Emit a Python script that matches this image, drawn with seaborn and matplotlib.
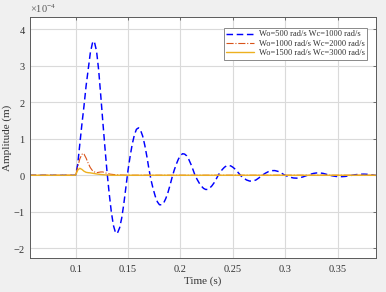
import numpy as np
import pandas as pd
import matplotlib
matplotlib.use("Agg")
import matplotlib.pyplot as plt
import seaborn as sns
from matplotlib.ticker import ScalarFormatter, FixedLocator

# ---------------- data (amplitudes read in units of 1e-4 m) ----------------
t_blue = [0.056, 0.100, 0.102, 0.104, 0.106, 0.108, 0.110, 0.112, 0.114, 0.116, 0.117,
          0.118, 0.120, 0.122, 0.124, 0.126, 0.128, 0.130, 0.132, 0.134, 0.136, 0.138,
          0.139, 0.140, 0.142, 0.144, 0.146, 0.148, 0.150, 0.152, 0.154, 0.156, 0.158,
          0.160, 0.162, 0.164, 0.166, 0.168, 0.170, 0.172, 0.174, 0.176, 0.178, 0.180,
          0.182, 0.184, 0.186, 0.188, 0.190, 0.192, 0.194, 0.196, 0.198, 0.200, 0.202,
          0.204, 0.206, 0.208, 0.210, 0.212, 0.214, 0.216, 0.218, 0.220, 0.222, 0.224,
          0.226, 0.228, 0.230, 0.232, 0.234, 0.236, 0.238, 0.240, 0.242, 0.244, 0.246,
          0.248, 0.250, 0.252, 0.254, 0.256, 0.258, 0.260, 0.263, 0.266, 0.269, 0.272,
          0.275, 0.278, 0.281, 0.284, 0.287, 0.290, 0.293, 0.296, 0.299, 0.302, 0.305,
          0.308, 0.311, 0.314, 0.317, 0.320, 0.324, 0.327, 0.330, 0.333, 0.336, 0.339,
          0.342, 0.345, 0.348, 0.351, 0.354, 0.357, 0.360, 0.363, 0.366, 0.369, 0.372,
          0.375, 0.378, 0.381, 0.384, 0.387]
y_blue = [0.0, 0.0, 0.30, 0.85, 1.40, 1.90, 2.45, 2.90, 3.35, 3.62, 3.68,
          3.65, 3.40, 2.88, 2.18, 1.45, 0.75, 0.08, -0.49, -0.99, -1.37, -1.57,
          -1.60, -1.58, -1.44, -1.17, -0.78, -0.32, 0.14, 0.52, 0.85, 1.10, 1.26,
          1.30, 1.23, 1.07, 0.82, 0.51, 0.16, -0.14, -0.38, -0.58, -0.73, -0.81,
          -0.81, -0.76, -0.64, -0.48, -0.28, -0.06, 0.135, 0.30, 0.44, 0.54, 0.59,
          0.58, 0.53, 0.43, 0.30, 0.15, -0.01, -0.12, -0.22, -0.30, -0.36, -0.39,
          -0.39, -0.35, -0.29, -0.21, -0.11, 0.0, 0.09, 0.16, 0.22, 0.26, 0.27,
          0.255, 0.22, 0.17, 0.11, 0.04, -0.025, -0.07, -0.13, -0.16, -0.16, -0.13,
          -0.07, 0.0, 0.056, 0.10, 0.126, 0.128, 0.106, 0.064, 0.01, -0.029, -0.058,
          -0.076, -0.08, -0.068, -0.044, -0.012, 0.028, 0.051, 0.063, 0.063, 0.051, 0.028,
          0.0, -0.017, -0.031, -0.039, -0.039, -0.033, -0.02, -0.003, 0.011, 0.022, 0.028,
          0.03, 0.026, 0.016, 0.004, -0.004]

t_orange = [0.056, 0.100, 0.102, 0.104, 0.106, 0.107, 0.108, 0.110, 0.112, 0.114, 0.116,
            0.118, 0.120, 0.122, 0.124, 0.126, 0.128, 0.130, 0.133, 0.136, 0.140, 0.145,
            0.150, 0.387]
y_orange = [0.0, 0.0, 0.22, 0.45, 0.57, 0.60, 0.58, 0.47, 0.33, 0.21, 0.13,
            0.09, 0.07, 0.08, 0.09, 0.09, 0.07, 0.05, 0.03, 0.02, 0.01, 0.005,
            0.0, 0.0]

t_yellow = [0.056, 0.100, 0.102, 0.104, 0.106, 0.108, 0.110, 0.112, 0.114, 0.117,
            0.120, 0.124, 0.128, 0.135, 0.387]
y_yellow = [0.0, 0.0, 0.14, 0.19, 0.16, 0.11, 0.08, 0.07, 0.065, 0.05,
            0.035, 0.02, 0.01, 0.0, 0.0]

labels = ["Wo=500 rad/s Wc=1000 rad/s",
          "Wo=1000 rad/s Wc=2000 rad/s",
          "Wo=1500 rad/s Wc=3000 rad/s"]
colors = ["#0000FF", "#D95319", "#EDB120"]

x_ticks = [0.1, 0.15, 0.2, 0.25, 0.3, 0.35]
x_ticklabels = ["0.1", "0.15", "0.2", "0.25", "0.3", "0.35"]
y_ticks = [-2, -1, 0, 1, 2, 3, 4]
y_scale = 1e-4

# ---------------- styling ----------------
sns.set_style("white")
plt.rcParams['font.family'] = ['Liberation Serif', 'DejaVu Serif']
plt.rcParams['mathtext.fontset'] = 'custom'
plt.rcParams['mathtext.rm'] = 'Liberation Serif'
plt.rcParams['mathtext.it'] = 'Liberation Serif:italic'
plt.rcParams['axes.unicode_minus'] = False

fig = plt.figure(figsize=(3.86, 2.92), dpi=100)
fig.patch.set_facecolor("#f0f0f0")
ax = fig.add_axes([30 / 386, 34 / 292, 346 / 386, 241 / 292])
ax.set_facecolor("white")

frames = []
for tt, yy, lab in [(t_blue, y_blue, labels[0]),
                    (t_orange, y_orange, labels[1]),
                    (t_yellow, y_yellow, labels[2])]:
    frames.append(pd.DataFrame({"t": tt, "amp": np.array(yy) * y_scale, "series": lab}))
df = pd.concat(frames, ignore_index=True)

sns.lineplot(data=df[df.series == labels[0]], x="t", y="amp", ax=ax, color=colors[0],
             linewidth=1.05, linestyle=(0, (4.5, 2.5)), label=labels[0], sort=False)
sns.lineplot(data=df[df.series == labels[1]], x="t", y="amp", ax=ax, color=colors[1],
             linewidth=0.8, linestyle="-.", label=labels[1], sort=False)
sns.lineplot(data=df[df.series == labels[2]], x="t", y="amp", ax=ax, color=colors[2],
             linewidth=1.0, linestyle="-", label=labels[2], sort=False)

ax.set_xlim(0.0565, 0.3865)
ax.set_ylim(-2.27 * y_scale, 4.34 * y_scale)

ax.xaxis.set_major_locator(FixedLocator(x_ticks))
ax.set_xticklabels(x_ticklabels)
ax.yaxis.set_major_locator(FixedLocator([v * y_scale for v in y_ticks]))
fmt = ScalarFormatter(useMathText=True)
fmt.set_powerlimits((0, 0))
ax.yaxis.set_major_formatter(fmt)

ax.grid(True, color="#dadada", linewidth=0.8)
ax.set_axisbelow(True)
for s in ax.spines.values():
    s.set_color("#5a5a5a")
    s.set_linewidth(0.7)
ax.tick_params(axis="both", which="major", direction="in", length=2.5, width=0.6,
               colors="#5a5a5a", labelcolor="#333333", labelsize=7.5,
               top=True, right=True)
ax.tick_params(axis="x", pad=5)
ax.tick_params(axis="y", pad=3)
ax.yaxis.get_offset_text().set_fontsize(7.5)
ax.yaxis.get_offset_text().set_color("#555555")

ax.set_xlabel("Time (s)", fontsize=8, color="#333333", labelpad=2)
ax.set_ylabel("Amplitude (m)", fontsize=8, color="#333333", labelpad=1)

leg = ax.legend(loc="upper right", bbox_to_anchor=(1 - 9 / 346, 1 - 11 / 241),
                borderaxespad=0, fontsize=6, frameon=True, fancybox=False,
                edgecolor="#8a8a8a", framealpha=1, handlelength=3.4,
                labelspacing=0.15, borderpad=0.3, handletextpad=0.5)
leg.get_frame().set_linewidth(0.7)
for txt in leg.get_texts():
    txt.set_color("#333333")

fig.savefig("out.png", dpi=100, facecolor=fig.get_facecolor())
